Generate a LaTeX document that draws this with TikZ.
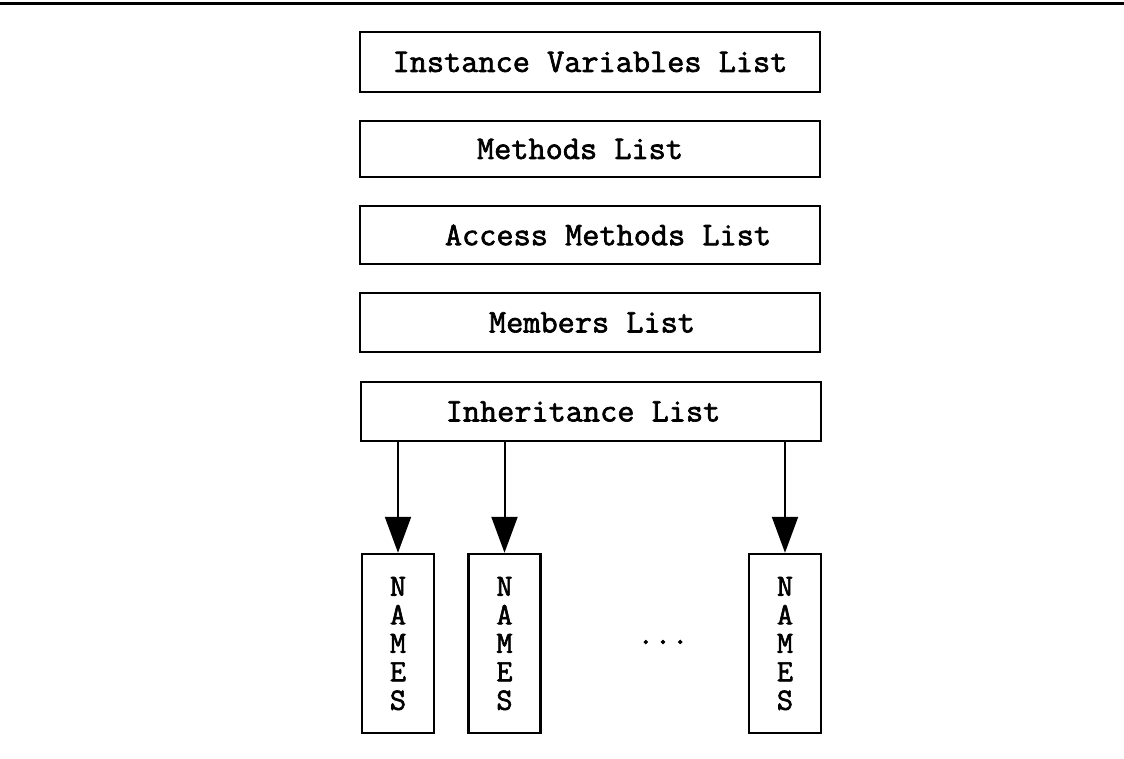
\documentclass[tikz,border=0pt]{standalone}
\usepackage{fontspec}
\usetikzlibrary{arrows.meta}
\newfontfamily\courlike[FakeStretch=1.01,FakeBold=2]{Latin Modern Mono}
\begin{document}
\begin{tikzpicture}[x=1pt,y=-1pt,
  line width=2.2pt,
  listbox/.style={draw, line width=2.4pt, minimum width=460pt, inner sep=0pt},
  listtext/.style={inner sep=0pt, font=\courlike\fontsize{33}{33}\selectfont},
  namebox/.style={draw, line width=2.4pt, minimum width=72pt, minimum height=179pt, inner sep=0pt},
  nametext/.style={inner sep=0pt, align=center, font=\courlike\fontsize{31}{28.5}\selectfont},
  ptr/.style={line width=2pt, -{Triangle[width=26pt,length=36pt]}}]
\useasboundingbox (0,0) rectangle (1124,759);
% rule across the top
\draw[line width=3pt] (0,4) -- (1124,4);
% stacked lists of the class record
\node[listbox, minimum height=60pt] (ivl) at (590,62) {};
\node[listtext] (ivlt) at (590,62) {Instance Variables List};
\node[listbox, minimum height=56pt] (ml) at (590,149) {};
\node[listtext] (mlt) at (580,149) {Methods List};
\node[listbox, minimum height=58pt] (aml) at (590,235) {};
\node[listtext] (amlt) at (608,235) {Access Methods List};
\node[listbox, minimum height=59pt] (mbl) at (590,322.5) {};
\node[listtext] (mblt) at (592,322.5) {Members List};
\node[listbox, minimum height=59pt] (inh) at (591,411.5) {};
\node[listtext] (inht) at (583,411.5) {Inheritance List};
% name tables reached from the inheritance list
\node[namebox] (n1) at (398,643.5) {};
\node[nametext] (n1t) at (398,643.5) {N\\A\\M\\E\\S};
\node[namebox] (n2) at (504.5,643.5) {};
\node[nametext] (n2t) at (504.5,643.5) {N\\A\\M\\E\\S};
\node[namebox] (n3) at (785,643.5) {};
\node[nametext] (n3t) at (785,643.5) {N\\A\\M\\E\\S};
\node[listtext] (dots) at (663,642) {...};
% pointers
\draw[ptr] (inh.south -| n1.north) -- (n1.north);
\draw[ptr] (inh.south -| n2.north) -- (n2.north);
\draw[ptr] (inh.south -| n3.north) -- (n3.north);
\end{tikzpicture}
\end{document}
